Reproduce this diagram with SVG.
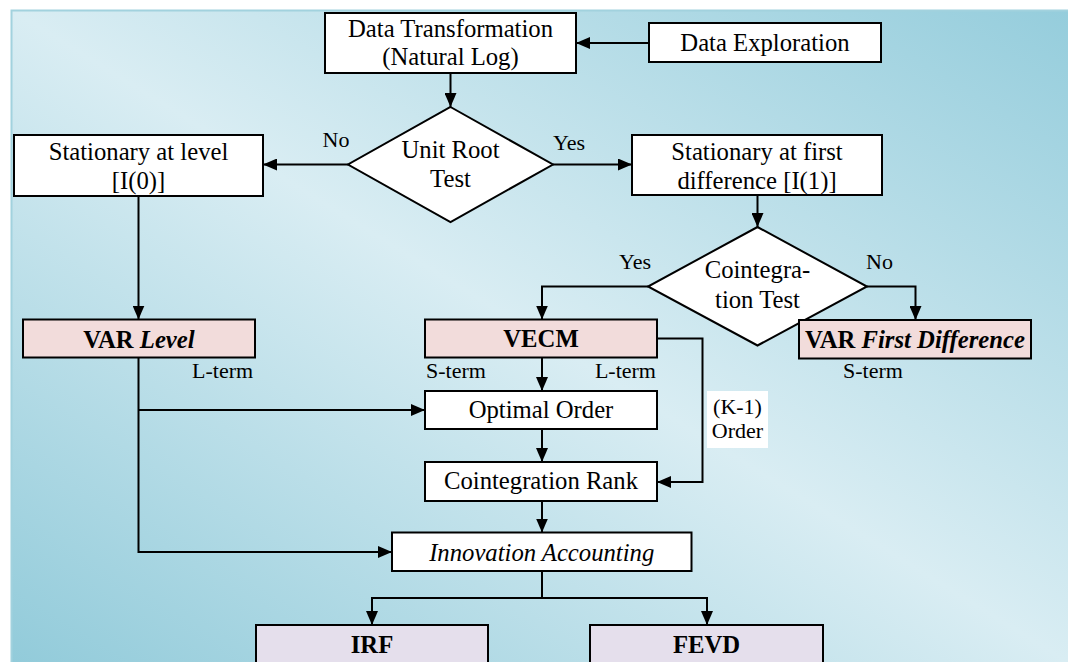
<svg xmlns="http://www.w3.org/2000/svg" width="1068" height="662" viewBox="0 0 1068 662">
<defs>
<linearGradient id="bg" x1="1" y1="0" x2="0" y2="1">
<stop offset="0" stop-color="#95cddc"/>
<stop offset="0.5" stop-color="#d9edf3"/>
<stop offset="1" stop-color="#92cbda"/>
</linearGradient>
<marker id="ah" viewBox="0 0 14 12" refX="14" refY="6" markerWidth="14" markerHeight="12" markerUnits="userSpaceOnUse" orient="auto">
<path d="M0,0 L14,6 L0,12 z" fill="#000"/>
</marker>
<style>
.box{fill:#fff;stroke:#000;stroke-width:2}
.pink{fill:#f2dcdb;stroke:#000;stroke-width:2}
.lav{fill:#e5dfec;stroke:#000;stroke-width:2}
.dia{fill:#fff;stroke:#000;stroke-width:2}
text{font-family:"Liberation Serif","Times New Roman",serif;fill:#000}
.t{font-size:24.7px;text-anchor:middle}
.b{font-size:24.7px;text-anchor:middle;font-weight:bold}
.lbl{font-size:22px}
.c{fill:none;stroke:#000;stroke-width:2}
</style>
</defs>
<rect x="0" y="0" width="1068" height="662" fill="#fff"/>
<rect x="11" y="10" width="1057" height="652" fill="url(#bg)"/>
<path d="M11.5,662 L11.5,10.5 L1068,10.5" fill="none" stroke="#a2d2de" stroke-width="2"/>

<g id="connectors">
<path class="c" d="M649,43 L576,43" marker-end="url(#ah)"/>
<path class="c" d="M450.5,73 L450.5,107" marker-end="url(#ah)"/>
<path class="c" d="M348,164.5 L263,164.5" marker-end="url(#ah)"/>
<path class="c" d="M553,164.5 L632,164.5" marker-end="url(#ah)"/>
<path class="c" d="M757.5,195 L757.5,227" marker-end="url(#ah)"/>
<path class="c" d="M648,286.5 L542,286.5 L542,319.5" marker-end="url(#ah)"/>
<path class="c" d="M867,286.5 L915.5,286.5 L915.5,320" marker-end="url(#ah)"/>
<path class="c" d="M138.5,196 L138.5,319.5" marker-end="url(#ah)"/>
<path class="c" d="M138.5,357.5 L138.5,552 L392,552" marker-end="url(#ah)"/>
<path class="c" d="M138.5,410 L425,410" marker-end="url(#ah)"/>
<path class="c" d="M542,357.5 L542,391" marker-end="url(#ah)"/>
<path class="c" d="M657,338.5 L702.5,338.5 L702.5,482 L657,482" marker-end="url(#ah)"/>
<path class="c" d="M542,429 L542,462" marker-end="url(#ah)"/>
<path class="c" d="M542,501 L542,532.5" marker-end="url(#ah)"/>
<path class="c" d="M542,571 L542,598"/>
<path class="c" d="M542,598 L372,598 L372,625" marker-end="url(#ah)"/>
<path class="c" d="M542,598 L707,598 L707,625" marker-end="url(#ah)"/>
</g>

<g id="n-data-exploration">
<rect class="box" x="649" y="23" width="232" height="39"/>
<text class="t" x="765" y="51">Data Exploration</text>
</g>
<g id="n-data-transformation">
<rect class="box" x="325" y="13" width="251" height="60"/>
<text class="t" x="450.5" y="37">Data Transformation</text>
<text class="t" x="450.5" y="65">(Natural Log)</text>
</g>
<g id="n-unit-root">
<polygon class="dia" points="450.5,107 553,164.5 450.5,222 348,164.5"/>
<text class="t" x="450.5" y="158">Unit Root</text>
<text class="t" x="450.5" y="187">Test</text>
</g>
<g id="lbl-ur">
<text class="lbl" x="336" y="147" text-anchor="middle">No</text>
<text class="lbl" x="569" y="150" text-anchor="middle">Yes</text>
</g>
<g id="n-stat-level">
<rect class="box" x="14" y="135" width="249" height="61"/>
<text class="t" x="138.5" y="160">Stationary at level</text>
<text class="t" x="138.5" y="189">[I(0)]</text>
</g>
<g id="n-stat-first">
<rect class="box" x="632" y="135" width="250" height="60"/>
<text class="t" x="757" y="159.5">Stationary at first</text>
<text class="t" x="757" y="189">difference [I(1)]</text>
</g>
<g id="n-coint-test">
<polygon class="dia" points="757.5,227 867,286.5 757.5,345.5 648,286.5"/>
<text class="t" x="757.5" y="278">Cointegra-</text>
<text class="t" x="757.5" y="308">tion Test</text>
</g>
<g id="lbl-ct">
<text class="lbl" x="651" y="269" text-anchor="end">Yes</text>
<text class="lbl" x="866" y="269">No</text>
</g>
<g id="n-var-level">
<rect class="pink" x="23" y="319.5" width="232" height="38"/>
<text class="b" x="139" y="347.5">VAR <tspan font-style="italic">Level</tspan></text>
<text class="lbl" x="192" y="378">L-term</text>
</g>
<g id="n-vecm">
<rect class="pink" x="425" y="319.5" width="232" height="38"/>
<text class="b" x="541" y="347.3">VECM</text>
<text class="lbl" x="426" y="378">S-term</text>
<text class="lbl" x="656" y="378" text-anchor="end">L-term</text>
</g>
<g id="n-var-fd">
<rect class="pink" x="799" y="320" width="232" height="38.5"/>
<text class="b" x="915" y="348">VAR <tspan font-style="italic">First Difference</tspan></text>
<text class="lbl" x="873" y="378" text-anchor="middle">S-term</text>
</g>
<g id="n-optimal-order">
<rect class="box" x="425" y="391" width="232" height="38"/>
<text class="t" x="541" y="418.3">Optimal Order</text>
</g>
<g id="lbl-k1">
<rect x="707" y="391" width="61" height="57" fill="#fff"/>
<text class="lbl" x="737.5" y="414" text-anchor="middle">(K-1)</text>
<text class="lbl" x="737.5" y="437.5" text-anchor="middle">Order</text>
</g>
<g id="n-coint-rank">
<rect class="box" x="425" y="462" width="232" height="39"/>
<text class="t" x="541" y="489">Cointegration Rank</text>
</g>
<g id="n-innovation">
<rect class="box" x="392" y="532.5" width="299.5" height="38.5"/>
<text class="t" x="541.7" y="560.5" font-style="italic">Innovation Accounting</text>
</g>
<g id="n-irf">
<rect class="lav" x="256" y="625" width="232" height="60"/>
<text class="b" x="372" y="653">IRF</text>
</g>
<g id="n-fevd">
<rect class="lav" x="590" y="625" width="233" height="60"/>
<text class="b" x="706.5" y="653">FEVD</text>
</g>
</svg>
